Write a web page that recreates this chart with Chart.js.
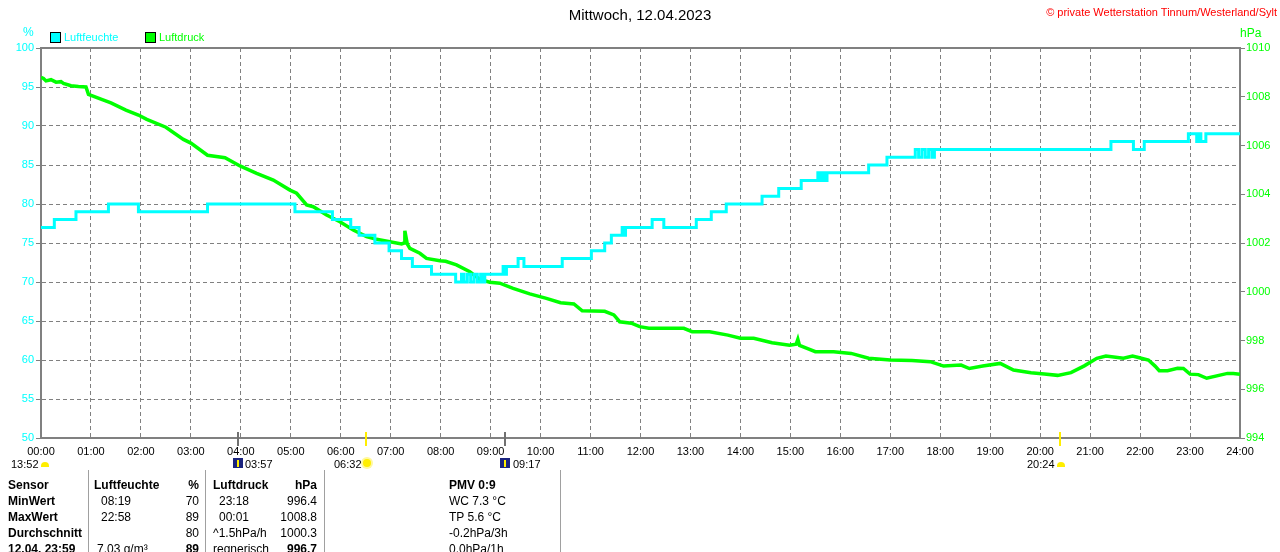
<!DOCTYPE html>
<html lang="de">
<head>
<meta charset="utf-8">
<title>Mittwoch, 12.04.2023</title>
<script src="https://cdn.jsdelivr.net/npm/chart.js@4.4.0/dist/chart.umd.min.js"></script>
<style>
    body { margin: 0; background: #fff; font-family: "Liberation Sans", Arial, sans-serif; }
    #page { position: relative; width: 1280px; height: 552px; overflow: hidden; }
    #chart { position: absolute; left: 0; top: 0; }
    .t { position: absolute; white-space: nowrap; font-size: 11px; line-height: 14px; }
    .b { font-weight: bold; }
    .r { transform: translateX(-100%); }
    .box { position: absolute; width: 9px; height: 9px; border: 1px solid #000; }
    .mark { position: absolute; width: 2px; height: 14px; top: 432px; }
    .sep { position: absolute; top: 470px; width: 1px; height: 82px; background: #a0a0a0; }
</style>
</head>
<body>
<div id="page">
    <canvas id="chart" width="1280" height="470"></canvas>
</div>
<script>
const hourLabels = ['00:00', '01:00', '02:00', '03:00', '04:00', '05:00', '06:00', '07:00', '08:00', '09:00', '10:00', '11:00', '12:00',
    '13:00', '14:00', '15:00', '16:00', '17:00', '18:00', '19:00', '20:00', '21:00', '22:00', '23:00', '24:00'];

// Luftfeuchte (%), Wert gilt ab der jeweiligen Uhrzeit
const humTimes = [
    '00:00', '00:16', '00:42', '01:21', '01:57', '03:20', '05:05', '05:50', '06:12', '06:22', '06:41', '06:58',
    '07:13', '07:26', '07:49', '08:18', '08:25', '08:28', '08:32', '08:36', '08:40', '08:44', '08:48', '08:50',
    '08:53', '09:15', '09:17', '09:19', '09:33', '09:40', '10:26', '11:01', '11:17', '11:25', '11:38', '11:40',
    '11:42', '12:14', '12:28', '13:07', '13:25', '13:43', '14:26', '14:46', '15:13', '15:33', '15:36', '15:39',
    '15:42', '15:44', '16:34', '16:56', '17:30', '17:34', '17:38', '17:42', '17:46', '17:50', '17:53', '21:25',
    '21:52', '22:05', '22:58', '23:08', '23:11', '23:13', '23:19', '24:00'];
const humValues = [
    77, 78, 79, 80, 79, 80, 79, 78, 77, 76, 75, 74,
    73, 72, 71, 70, 71, 70, 71, 70, 71, 70, 71, 70,
    71, 72, 71, 72, 73, 72, 73, 74, 75, 76, 77, 76,
    77, 78, 77, 78, 79, 80, 81, 82, 83, 84, 83, 84,
    83, 84, 85, 86, 87, 86, 87, 86, 87, 86, 87, 88,
    87, 88, 89, 88, 89, 88, 89, 89];

// Luftdruck (hPa)
const pressTimes = ['00:00', '00:03', '00:06', '00:12', '00:18', '00:24', '00:27', '00:36', '00:45', '00:54', '00:57', '01:12', '01:24', '01:42', '01:57',
    '02:07', '02:30', '02:51', '03:00', '03:20', '03:41', '03:59', '04:19', '04:39', '04:59', '05:07', '05:19', '05:27',
    '05:43', '05:59', '06:15', '06:31', '06:43', '06:59', '07:13', '07:16', '07:17', '07:20', '07:23', '07:35', '07:43',
    '07:59', '08:06', '08:19', '08:35', '08:47', '08:59', '09:11', '09:27', '09:47', '10:07', '10:24', '10:40', '10:50',
    '11:17', '11:28', '11:35', '11:49', '11:59', '12:10', '12:52', '13:02', '13:23', '13:45', '14:00', '14:16', '14:38',
    '14:59', '15:07', '15:09', '15:11', '15:20', '15:30', '15:52', '16:13', '16:34', '17:00', '17:26', '17:48', '18:04',
    '18:25', '18:35', '18:51', '19:12', '19:28', '19:49', '20:05', '20:21', '20:37', '20:53', '21:08', '21:19', '21:40',
    '21:51', '21:58', '22:10', '22:18', '22:23', '22:33', '22:45', '22:52', '23:00', '23:10', '23:20', '23:36', '23:45', '23:52', '24:00'];
const pressValues = [1008.8, 1008.75, 1008.65, 1008.7, 1008.6, 1008.62, 1008.55, 1008.45, 1008.42, 1008.4, 1008.1, 1007.9, 1007.75, 1007.45, 1007.25,
    1007.07, 1006.75, 1006.25, 1006.1, 1005.6, 1005.5, 1005.16, 1004.86, 1004.58, 1004.17, 1004.04, 1003.56, 1003.49,
    1003.15, 1002.87, 1002.53, 1002.26, 1002.15, 1002.05, 1001.96, 1002.0, 1002.5, 1001.95, 1001.78, 1001.58, 1001.37,
    1001.27, 1001.25, 1001.1, 1000.82, 1000.51, 1000.39, 1000.35, 1000.14, 999.91, 999.73, 999.55, 999.5, 999.22,
    999.2, 999.05, 998.77, 998.71, 998.57, 998.5, 998.5, 998.36, 998.36, 998.22, 998.09, 998.09, 997.91,
    997.81, 997.85, 998.05, 997.8, 997.68, 997.54, 997.54, 997.47, 997.27, 997.2, 997.18, 997.13, 996.95,
    996.99, 996.85, 996.95, 997.06, 996.79, 996.68, 996.63, 996.57, 996.68, 996.96, 997.27, 997.36, 997.27,
    997.36, 997.3, 997.2, 996.95, 996.76, 996.76, 996.86, 996.85, 996.62, 996.6, 996.45, 996.58, 996.65, 996.65, 996.62];

const sunMoon = [
    { time: '13:52', x: 11, icon: 'moonhalf', iconX: 41 },
    { time: '03:57', x: 245, icon: 'moon', iconX: 233 },
    { time: '06:32', x: 334, icon: 'sun', iconX: 363 },
    { time: '09:17', x: 513, icon: 'moon', iconX: 500 },
    { time: '20:24', x: 1027, icon: 'moonhalf', iconX: 1057 }
];
const axisMarks = [
    { x: 237, color: '#707070' },
    { x: 365, color: '#ffee00' },
    { x: 504, color: '#707070' },
    { x: 1059, color: '#ffee00' }
];

const tableRows = [
    ['Sensor', 'Luftfeuchte', '%', 'Luftdruck', 'hPa', 'PMV 0:9'],
    ['MinWert', '08:19', '70', '23:18', '996.4', 'WC 7.3 °C'],
    ['MaxWert', '22:58', '89', '00:01', '1008.8', 'TP 5.6 °C'],
    ['Durchschnitt', '', '80', '^1.5hPa/h', '1000.3', '-0.2hPa/3h'],
    ['12.04. 23:59', '7.03 g/m³', '89', 'regnerisch', '996.7', '0.0hPa/1h']
];

const CYAN = '#00ffff';
const GREEN = '#00ff00';
const GRAY = '#808080';

const toMin = (s) => {
    const [h, m] = s.split(':').map(Number);
    return h * 60 + m;
};

const page = document.getElementById('page');
const addText = (text, x, y, cls, color, size) => {
    const el = document.createElement('div');
    el.className = 't ' + (cls || '');
    el.textContent = text;
    el.style.left = x + 'px';
    el.style.top = (y - 7) + 'px';
    if (color) el.style.color = color;
    if (size) el.style.fontSize = size + 'px';
    page.append(el);
    return el;
};

// Kopf
const title = addText('Mittwoch, 12.04.2023', 640, 15, '', '#000', 15);
title.style.transform = 'translateX(-50%)';
addText('© private Wetterstation Tinnum/Westerland/Sylt', 1277, 12, 'r', '#ff0000', 11);
addText('%', 23, 32, '', CYAN, 12);
addText('hPa', 1240, 33, '', GREEN, 12);

[[50, CYAN, 'Luftfeuchte'], [145, GREEN, 'Luftdruck']].forEach(([x, color, label]) => {
    const box = document.createElement('div');
    box.className = 'box';
    box.style.left = x + 'px';
    box.style.top = '32px';
    box.style.background = color;
    page.append(box);
    addText(label, x + 14, 37, '', color, 11);
});

// Sonne / Mond
axisMarks.forEach((m) => {
    const el = document.createElement('div');
    el.className = 'mark';
    el.style.left = m.x + 'px';
    el.style.background = m.color;
    page.append(el);
});
sunMoon.forEach((s) => {
    addText(s.time, s.x, 464, '', '#000', 11);
    const ic = document.createElement('div');
    ic.style.position = 'absolute';
    if (s.icon === 'moon') {
        Object.assign(ic.style, { left: s.iconX + 'px', top: '458px', width: '10px', height: '10px', background: '#1a237e' });
        const a = document.createElement('div');
        Object.assign(a.style, { position: 'absolute', left: '4px', top: '2px', width: '2px', height: '7px', background: '#ffee00' });
        ic.append(a);
    } else if (s.icon === 'sun') {
        Object.assign(ic.style, { left: s.iconX + 'px', top: '459px', width: '8px', height: '8px', borderRadius: '50%',
            background: '#ffee00', boxShadow: '0 0 0 2px #fff8a0' });
    } else {
        Object.assign(ic.style, { left: s.iconX + 'px', top: '462px', width: '8px', height: '5px',
            borderRadius: '4px 4px 0 0', background: '#ffee00' });
    }
    page.append(ic);
});

// Tabelle
[88, 205, 324, 560].forEach((x) => {
    const el = document.createElement('div');
    el.className = 'sep';
    el.style.left = x + 'px';
    page.append(el);
});
const rowY = [485, 501, 517, 533, 549];
tableRows.forEach((row, i) => {
    const y = rowY[i];
    const head = i === 0;
    const last = i === 4;
    addText(row[0], 8, y, 'b', '#000', 12);
    addText(row[1], head ? 94 : (last ? 97 : 101), y, head ? 'b' : '', '#000', 12);
    addText(row[2], 199, y, 'r' + (head || last ? ' b' : ''), '#000', 12);
    addText(row[3], head || i >= 3 ? 213 : 219, y, head ? 'b' : '', '#000', 12);
    addText(row[4], 317, y, 'r' + (head || last ? ' b' : ''), '#000', 12);
    addText(row[5], 449, y, head ? 'b' : '', '#000', 12);
});

const frame = {
    id: 'frame',
    beforeDatasetsDraw (chart) {
        const { ctx, chartArea } = chart;
        ctx.save();
        ctx.strokeStyle = GRAY;
        ctx.lineWidth = 2;
        ctx.beginPath();
        ctx.moveTo(chartArea.left - 1, chartArea.top);
        ctx.lineTo(chartArea.right + 1, chartArea.top);
        ctx.stroke();
        ctx.restore();
    }
};

const tickFont = { family: '"Liberation Sans", Arial, sans-serif', size: 11 };

new Chart(document.getElementById('chart'), {
    type: 'line',
    data: {
        datasets: [{
            label: 'Luftfeuchte',
            data: humTimes.map((t, i) => ({ x: toMin(t), y: humValues[i] })),
            borderColor: CYAN,
            borderWidth: 3,
            stepped: 'before',
            pointRadius: 0,
            yAxisID: 'y'
        }, {
            label: 'Luftdruck',
            data: pressTimes.map((t, i) => ({ x: toMin(t), y: pressValues[i] })),
            borderColor: GREEN,
            borderWidth: 3.5,
            tension: 0,
            pointRadius: 0,
            yAxisID: 'y2'
        }]
    },
    options: {
        responsive: false,
        animation: false,
        layout: { padding: { top: 48, left: 0, right: 0, bottom: 0 } },
        plugins: {
            legend: { display: false },
            title: { display: false },
            tooltip: { enabled: false }
        },
        scales: {
            x: {
                type: 'linear',
                min: 0,
                max: 1440,
                afterFit: (s) => { s.height = 32; },
                ticks: {
                    stepSize: 60,
                    autoSkip: false,
                    maxRotation: 0,
                    padding: 7,
                    color: '#000',
                    font: tickFont,
                    callback: (v) => hourLabels[v / 60]
                },
                grid: { color: GRAY, lineWidth: 1, drawTicks: false },
                border: { color: GRAY, width: 2, dash: [4, 3] }
            },
            y: {
                position: 'left',
                min: 50,
                max: 100,
                afterFit: (s) => { s.width = 41; },
                ticks: { stepSize: 5, padding: 2, color: CYAN, font: tickFont },
                grid: { color: GRAY, lineWidth: 1, tickLength: 5, tickColor: GRAY, tickBorderDash: [] },
                border: { color: GRAY, width: 2, dash: [4, 3] }
            },
            y2: {
                position: 'right',
                min: 994,
                max: 1010,
                afterFit: (s) => { s.width = 40; },
                ticks: { stepSize: 2, padding: 1, color: GREEN, font: tickFont, callback: (v) => String(v) },
                grid: { drawOnChartArea: false, tickLength: 5, tickColor: GRAY, tickBorderDash: [] },
                border: { color: GRAY, width: 2 }
            }
        }
    },
    plugins: [frame]
});
</script>
</body>
</html>
